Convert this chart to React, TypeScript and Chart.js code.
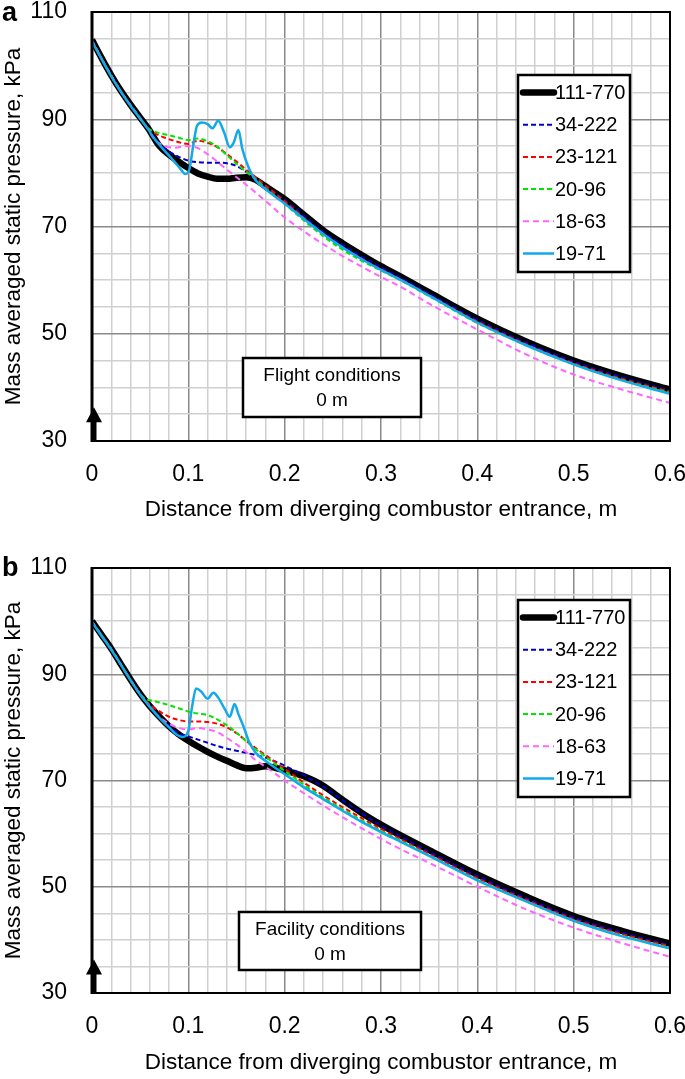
import React, { useEffect, useRef } from 'react';
import { Chart, registerables } from 'chart.js';

Chart.register(...registerables);

const FONT = "'Liberation Sans', Arial, Helvetica, sans-serif";
Chart.defaults.font.family = FONT;
Chart.defaults.color = '#000';

// ---------- shared labels / styles ----------
const seriesLabels = ['111-770', '34-222', '23-121', '20-96', '18-63', '19-71'];
const seriesColors = ['#000000', '#0000c8', '#ff0000', '#00e600', '#ff66ff', '#12a9e8'];
const xTitle = 'Distance from diverging combustor entrance, m';
const yTitle = 'Mass averaged static pressure, kPa';

// ---------- panel a : flight conditions ----------
const aBlackX = [0, 0.01, 0.02, 0.03, 0.04, 0.05, 0.058, 0.07, 0.08, 0.09, 0.1, 0.11, 0.12, 0.13, 0.14, 0.15, 0.16, 0.17, 0.18, 0.19, 0.2, 0.22, 0.24, 0.26, 0.28, 0.3, 0.32, 0.35, 0.4, 0.45, 0.5, 0.55, 0.6];
const aBlackY = [104.8, 101.4, 98.2, 95.3, 92.7, 90.3, 88.4, 85.0, 83.4, 82.1, 80.9, 79.9, 79.3, 78.9, 78.9, 79.1, 79.2, 78.7, 77.5, 76.3, 75.1, 72.2, 69.3, 66.9, 64.7, 62.6, 60.7, 57.7, 52.8, 48.6, 45.0, 42.1, 39.6];

const aBlueX = [0, 0.01, 0.02, 0.03, 0.04, 0.05, 0.058, 0.07, 0.08, 0.09, 0.1, 0.11, 0.12, 0.13, 0.14, 0.15, 0.16, 0.17, 0.18, 0.19, 0.2, 0.22, 0.24, 0.26, 0.28, 0.3, 0.32, 0.35, 0.4, 0.45, 0.5, 0.55, 0.6];
const aBlueY = [104.7, 101.3, 98.1, 95.2, 92.6, 90.2, 88.3, 85.5, 84.0, 83.0, 82.3, 82.0, 81.9, 81.9, 81.8, 81.3, 80.2, 79.0, 77.5, 76.2, 74.9, 72.0, 69.0, 66.6, 64.4, 62.4, 60.5, 57.5, 52.6, 48.4, 44.8, 41.9, 39.4];

const aRedX = [0, 0.01, 0.02, 0.03, 0.04, 0.05, 0.058, 0.065, 0.075, 0.085, 0.095, 0.1, 0.105, 0.11, 0.12, 0.13, 0.14, 0.15, 0.16, 0.17, 0.18, 0.19, 0.2, 0.22, 0.24, 0.26, 0.28, 0.3, 0.32, 0.35, 0.4, 0.45, 0.5, 0.55, 0.6];
const aRedY = [104.7, 101.3, 98.1, 95.2, 92.6, 90.2, 88.3, 87.4, 86.6, 86.0, 85.5, 85.4, 85.7, 86.0, 85.6, 84.8, 83.5, 82.1, 80.6, 79.2, 77.7, 76.2, 74.7, 71.6, 68.6, 66.1, 64.0, 62.0, 60.2, 57.2, 52.3, 48.1, 44.5, 41.6, 39.2];

const aGreenX = [0, 0.01, 0.02, 0.03, 0.04, 0.05, 0.058, 0.065, 0.075, 0.085, 0.095, 0.1, 0.105, 0.11, 0.12, 0.13, 0.14, 0.15, 0.16, 0.17, 0.18, 0.19, 0.2, 0.22, 0.24, 0.26, 0.28, 0.3, 0.32, 0.35, 0.4, 0.45, 0.5, 0.55, 0.6];
const aGreenY = [104.7, 101.3, 98.1, 95.2, 92.6, 90.2, 88.3, 87.7, 87.2, 86.8, 86.3, 86.1, 86.3, 86.4, 85.9, 84.9, 83.3, 81.7, 80.2, 78.8, 77.2, 75.7, 74.2, 71.1, 68.2, 65.7, 63.6, 61.8, 60.0, 57.0, 52.0, 47.9, 44.3, 41.4, 39.0];

const aPinkX = [0, 0.01, 0.02, 0.03, 0.04, 0.05, 0.058, 0.065, 0.075, 0.085, 0.095, 0.1, 0.105, 0.11, 0.12, 0.13, 0.14, 0.15, 0.16, 0.18, 0.2, 0.22, 0.24, 0.26, 0.28, 0.3, 0.32, 0.35, 0.4, 0.45, 0.5, 0.55, 0.6];
const aPinkY = [104.7, 101.3, 98.1, 95.2, 92.6, 90.2, 88.2, 86.2, 85.1, 84.7, 84.9, 85.0, 84.9, 84.6, 83.5, 82.1, 80.6, 79.2, 77.8, 74.8, 71.7, 69.1, 66.7, 64.5, 62.5, 60.6, 58.8, 55.6, 50.8, 46.2, 42.4, 39.6, 37.1];

const aCyanX = [0, 0.01, 0.02, 0.03, 0.04, 0.05, 0.058, 0.065, 0.075, 0.085, 0.092, 0.097, 0.101, 0.105, 0.109, 0.114, 0.12, 0.125, 0.131, 0.137, 0.143, 0.147, 0.152, 0.156, 0.163, 0.17, 0.18, 0.19, 0.2, 0.22, 0.24, 0.26, 0.28, 0.3, 0.32, 0.35, 0.4, 0.45, 0.5, 0.55, 0.6];
const aCyanY = [104.5, 101.2, 98.0, 95.1, 92.5, 90.1, 88.2, 86.3, 84.2, 82.2, 80.7, 79.8, 80.6, 85.0, 88.8, 89.4, 89.1, 88.3, 89.7, 87.6, 84.8, 85.6, 88.0, 84.5, 80.8, 78.6, 77.0, 75.6, 74.3, 71.4, 68.6, 66.1, 63.9, 61.9, 60.1, 57.1, 52.1, 47.9, 44.3, 41.3, 38.8];

// ---------- panel b : facility conditions ----------
const bBlackX = [0, 0.01, 0.02, 0.03, 0.04, 0.05, 0.06, 0.07, 0.08, 0.09, 0.1, 0.11, 0.12, 0.13, 0.14, 0.15, 0.16, 0.17, 0.18, 0.19, 0.2, 0.21, 0.22, 0.23, 0.24, 0.26, 0.28, 0.3, 0.32, 0.35, 0.4, 0.45, 0.5, 0.55, 0.6];
const bBlackY = [100.0, 97.4, 94.8, 91.9, 89.0, 86.3, 84.0, 82.0, 80.2, 78.7, 77.5, 76.4, 75.4, 74.5, 73.7, 72.9, 72.3, 72.4, 72.7, 72.4, 71.9, 71.4, 70.8, 70.0, 69.0, 66.4, 63.9, 61.7, 59.7, 56.9, 52.3, 48.2, 44.5, 41.7, 39.3];

const bBlueX = [0, 0.01, 0.02, 0.03, 0.04, 0.05, 0.06, 0.07, 0.08, 0.09, 0.1, 0.11, 0.12, 0.13, 0.14, 0.15, 0.16, 0.17, 0.18, 0.19, 0.2, 0.21, 0.22, 0.23, 0.24, 0.26, 0.28, 0.3, 0.32, 0.35, 0.4, 0.45, 0.5, 0.55, 0.6];
const bBlueY = [99.9, 97.3, 94.7, 91.8, 88.9, 86.2, 84.0, 82.0, 80.3, 78.9, 78.3, 77.7, 77.1, 76.5, 76.0, 75.6, 75.2, 74.8, 74.3, 73.6, 72.8, 71.9, 71.0, 69.9, 68.8, 66.3, 63.8, 61.5, 59.5, 56.6, 52.0, 47.9, 44.2, 41.4, 39.0];

const bRedX = [0, 0.01, 0.02, 0.03, 0.04, 0.05, 0.055, 0.06, 0.07, 0.08, 0.09, 0.1, 0.11, 0.12, 0.13, 0.14, 0.15, 0.16, 0.17, 0.18, 0.19, 0.2, 0.22, 0.24, 0.26, 0.28, 0.3, 0.32, 0.35, 0.4, 0.45, 0.5, 0.55, 0.6];
const bRedY = [99.9, 97.3, 94.7, 91.8, 88.9, 86.2, 85.2, 84.3, 83.0, 82.0, 81.4, 81.1, 81.1, 81.0, 80.7, 80.0, 78.9, 77.5, 76.1, 74.8, 73.5, 72.2, 69.6, 67.2, 65.0, 62.9, 60.9, 59.0, 56.2, 51.6, 47.6, 43.9, 41.1, 38.8];

const bGreenX = [0, 0.01, 0.02, 0.03, 0.04, 0.05, 0.055, 0.06, 0.07, 0.08, 0.09, 0.1, 0.11, 0.12, 0.13, 0.14, 0.15, 0.16, 0.17, 0.18, 0.19, 0.2, 0.22, 0.24, 0.26, 0.28, 0.3, 0.32, 0.35, 0.4, 0.45, 0.5, 0.55, 0.6];
const bGreenY = [99.9, 97.3, 94.7, 91.8, 88.9, 86.2, 85.4, 85.1, 84.7, 84.2, 83.6, 83.0, 82.6, 82.3, 81.5, 80.4, 79.0, 77.4, 75.9, 74.5, 73.1, 71.8, 69.2, 66.8, 64.6, 62.5, 60.5, 58.7, 55.9, 51.3, 47.3, 43.6, 40.8, 38.5];

const bPinkX = [0, 0.01, 0.02, 0.03, 0.04, 0.05, 0.055, 0.06, 0.07, 0.08, 0.09, 0.1, 0.11, 0.12, 0.13, 0.14, 0.15, 0.16, 0.17, 0.18, 0.19, 0.2, 0.22, 0.24, 0.26, 0.28, 0.3, 0.32, 0.35, 0.4, 0.45, 0.5, 0.55, 0.6];
const bPinkY = [99.9, 97.3, 94.7, 91.8, 88.9, 86.2, 85.0, 83.8, 81.9, 80.7, 79.9, 79.6, 79.9, 79.6, 79.1, 78.0, 76.8, 75.4, 73.8, 72.6, 71.3, 70.0, 67.6, 65.3, 63.1, 61.0, 59.0, 57.1, 54.5, 50.0, 45.8, 42.3, 39.4, 36.8];

const bCyanX = [0, 0.01, 0.02, 0.03, 0.04, 0.05, 0.06, 0.07, 0.08, 0.088, 0.094, 0.1, 0.104, 0.108, 0.113, 0.12, 0.126, 0.131, 0.138, 0.143, 0.148, 0.152, 0.157, 0.163, 0.17, 0.18, 0.19, 0.2, 0.22, 0.24, 0.26, 0.28, 0.3, 0.32, 0.35, 0.4, 0.45, 0.5, 0.55, 0.6];
const bCyanY = [99.8, 97.2, 94.6, 91.8, 88.9, 86.2, 83.9, 81.8, 80.0, 78.6, 78.2, 79.4, 84.0, 87.3, 86.8, 85.4, 86.5, 85.6, 83.4, 82.0, 84.4, 82.5, 80.3, 77.3, 75.2, 73.7, 72.4, 71.2, 68.7, 66.5, 64.3, 62.2, 60.3, 58.5, 55.8, 51.2, 47.3, 43.6, 40.7, 38.4];

// ---------- axis ranges / ticks ----------
const xMin = 0, xMax = 0.6, xStep = 0.02;
const yMin = 30, yMax = 110, yStep = 5;
const arrowTipValue = 36.3;
const arrowHeadBaseValue = 33.5;

type PanelCfg = {
  tag: string;
  note: string[];
  xs: number[][];
  ys: number[][];
  top: number;
  height: number;
  plotTop: number;
  xAxisH: number;
  xTitlePadBottom: number;
  legendTop: number;
  noteBox: { left: number; top: number; w: number; h: number };
  tagBaseline: number;
};

const panels: PanelCfg[] = [
  {
    tag: 'a',
    note: ['Flight conditions', '0 m'],
    xs: [aBlackX, aBlueX, aRedX, aGreenX, aPinkX, aCyanX],
    ys: [aBlackY, aBlueY, aRedY, aGreenY, aPinkY, aCyanY],
    top: 0,
    height: 530,
    plotTop: 12,
    xAxisH: 89,
    xTitlePadBottom: 6.5,
    legendTop: 75,
    noteBox: { left: 243, top: 358, w: 178, h: 59 },
    tagBaseline: 21,
  },
  {
    tag: 'b',
    note: ['Facility conditions', '0 m'],
    xs: [bBlackX, bBlueX, bRedX, bGreenX, bPinkX, bCyanX],
    ys: [bBlackY, bBlueY, bRedY, bGreenY, bPinkY, bCyanY],
    top: 552,
    height: 527,
    plotTop: 16,
    xAxisH: 86,
    xTitlePadBottom: 2.5,
    legendTop: 48,
    noteBox: { left: 239, top: 360, w: 182, h: 58 },
    tagBaseline: 24,
  },
];

const isMajorX = (v: number) => Math.round(v * 100) % 10 === 0;
const isMajorY = (v: number) => (Math.round(v) - 30) % 20 === 0;

const zeroPad = (s: any) => {
  s.paddingTop = 0;
  s.paddingBottom = 0;
  s.paddingLeft = 0;
  s.paddingRight = 0;
};

function Panel({ cfg }: { cfg: PanelCfg }) {
  const ref = useRef<HTMLCanvasElement | null>(null);

  useEffect(() => {
    if (!ref.current) return;
    const widths = [6.5, 2, 2, 2, 2, 2.5];
    const dashes = [[], [5, 3], [5, 3], [5, 3], [6, 4], []];
    const orders = [10, 5, 4, 3, 2, 1];

    const datasets = seriesLabels.map((label, i) => ({
      label,
      data: cfg.xs[i].map((x, k) => ({ x, y: cfg.ys[i][k] })),
      borderColor: seriesColors[i],
      backgroundColor: seriesColors[i],
      borderWidth: widths[i],
      borderDash: dashes[i],
      order: orders[i],
      pointRadius: 0,
      fill: false,
      cubicInterpolationMode: 'monotone' as const,
    }));

    const deco = {
      id: 'deco',
      afterDatasetsDraw(chart: any) {
        const ctx = chart.ctx as CanvasRenderingContext2D;
        const a = chart.chartArea;
        const xs = chart.scales.x;
        const ys = chart.scales.y;
        ctx.save();
        ctx.setLineDash([]);
        // frame
        ctx.strokeStyle = '#000';
        ctx.lineWidth = 2;
        ctx.strokeRect(a.left, a.top, a.right - a.left, a.bottom - a.top);
        ctx.lineWidth = 3;
        ctx.beginPath();
        ctx.moveTo(a.left, a.top - 1);
        ctx.lineTo(a.left, a.bottom + 1);
        ctx.stroke();
        // arrow at the combustor entrance
        const ax = xs.getPixelForValue(0) + 2;
        const tip = ys.getPixelForValue(arrowTipValue);
        const base = ys.getPixelForValue(arrowHeadBaseValue);
        ctx.fillStyle = '#000';
        ctx.beginPath();
        ctx.moveTo(ax, tip);
        ctx.lineTo(ax + 8, base);
        ctx.lineTo(ax - 8, base);
        ctx.closePath();
        ctx.fill();
        ctx.fillRect(ax - 2.5, base - 1, 5, a.bottom - base + 1);
        ctx.restore();
      },
      afterDraw(chart: any) {
        const ctx = chart.ctx as CanvasRenderingContext2D;
        ctx.save();
        // legend box
        const lx = 518, lw = 112, lh = 197, lt = cfg.legendTop;
        ctx.fillStyle = '#fff';
        ctx.fillRect(lx, lt, lw, lh);
        ctx.strokeStyle = '#000';
        ctx.lineWidth = 2.5;
        ctx.setLineDash([]);
        ctx.strokeRect(lx, lt, lw, lh);
        chart.data.datasets.forEach((ds: any, i: number) => {
          const yRow = lt + 17.5 + i * 32.2;
          ctx.strokeStyle = ds.borderColor;
          ctx.lineWidth = ds.borderWidth;
          ctx.setLineDash(ds.borderDash || []);
          ctx.lineCap = i === 0 ? 'round' : 'butt';
          ctx.beginPath();
          ctx.moveTo(lx + 5, yRow);
          ctx.lineTo(lx + 36, yRow);
          ctx.stroke();
          ctx.setLineDash([]);
          ctx.fillStyle = '#000';
          ctx.font = `20px ${FONT}`;
          ctx.textAlign = 'left';
          ctx.textBaseline = 'middle';
          ctx.fillText(ds.label, lx + 37, yRow + 1);
        });
        // note box
        const nb = cfg.noteBox;
        ctx.fillStyle = '#fff';
        ctx.fillRect(nb.left, nb.top, nb.w, nb.h);
        ctx.strokeStyle = '#000';
        ctx.lineWidth = 2.5;
        ctx.strokeRect(nb.left, nb.top, nb.w, nb.h);
        ctx.fillStyle = '#000';
        ctx.font = `19px ${FONT}`;
        ctx.textAlign = 'center';
        ctx.textBaseline = 'middle';
        ctx.fillText(cfg.note[0], nb.left + nb.w / 2, nb.top + 18);
        ctx.fillText(cfg.note[1], nb.left + nb.w / 2, nb.top + 43);
        // panel tag
        ctx.font = `bold 27px ${FONT}`;
        ctx.textAlign = 'left';
        ctx.textBaseline = 'alphabetic';
        ctx.fillText(cfg.tag, 2, cfg.tagBaseline);
        ctx.restore();
      },
    };

    const chart = new Chart(ref.current, {
      type: 'line',
      data: { datasets },
      plugins: [deco],
      options: {
        animation: false,
        responsive: false,
        devicePixelRatio: 1,
        layout: { padding: { top: cfg.plotTop, right: 15, left: 0, bottom: 0 } },
        plugins: { legend: { display: false }, tooltip: { enabled: false } },
        scales: {
          x: {
            type: 'linear',
            min: xMin,
            max: xMax,
            afterFit: (s: any) => { s.height = cfg.xAxisH; zeroPad(s); },
            border: { display: false },
            grid: {
              drawTicks: false,
              lineWidth: 1.5,
              color: (c: any) => (c.tick && isMajorX(c.tick.value) ? '#8a8a8a' : '#d0d0d0'),
            },
            ticks: {
              stepSize: xStep,
              autoSkip: false,
              maxRotation: 0,
              minRotation: 0,
              padding: 20,
              color: '#000',
              font: { size: 23, family: FONT },
              callback: (v: any) => {
                const r = Math.round(Number(v) * 100);
                return r % 10 === 0 ? String(r / 100) : '';
              },
            },
            title: {
              display: true,
              text: xTitle,
              color: '#000',
              font: { size: 22.5, family: FONT },
              padding: { top: 0, bottom: cfg.xTitlePadBottom },
            },
          },
          y: {
            type: 'linear',
            min: yMin,
            max: yMax,
            afterFit: (s: any) => { s.width = 92; zeroPad(s); },
            border: { display: false },
            grid: {
              drawTicks: false,
              lineWidth: 1.5,
              color: (c: any) => (c.tick && isMajorY(c.tick.value) ? '#8a8a8a' : '#d0d0d0'),
            },
            ticks: {
              stepSize: yStep,
              autoSkip: false,
              padding: 25,
              color: '#000',
              font: { size: 23, family: FONT },
              callback: (v: any) => (isMajorY(Number(v)) ? String(Math.round(Number(v))) : ''),
            },
            title: {
              display: true,
              text: yTitle,
              color: '#000',
              font: { size: 22.5, family: FONT },
              padding: { top: 0, bottom: 0 },
            },
          },
        },
      } as any,
    });
    return () => chart.destroy();
  }, [cfg]);

  return (
    <canvas
      ref={ref}
      width={685}
      height={cfg.height}
      style={{ position: 'absolute', left: 0, top: cfg.top, display: 'block' }}
    />
  );
}

export default function App() {
  return (
    <div style={{ position: 'absolute', left: 0, top: 0, width: 685, height: 1079, background: '#fff', overflow: 'hidden' }}>
      {panels.map((p) => (
        <Panel key={p.tag} cfg={p} />
      ))}
    </div>
  );
}
